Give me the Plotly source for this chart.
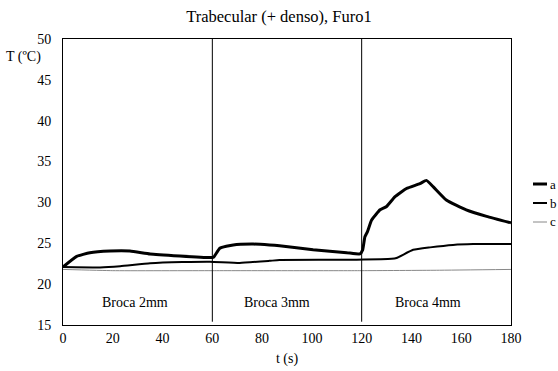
import plotly.graph_objects as go

t_a = [0, 5.5, 10.8, 18.9, 26.9, 35, 47, 59, 60.5, 63, 68.4, 76.5, 83, 87, 100.5, 114, 119.3,
       120.4, 121.3, 122.3, 124, 127.4, 130, 133.4, 138, 143.4, 146, 148.8, 154, 162, 170.2, 180]
T_a = [22.1, 23.4, 23.85, 24.05, 24.05, 23.7, 23.45, 23.25, 23.3, 24.4, 24.8, 24.9, 24.8, 24.7, 24.2, 23.85, 23.7,
       24.2, 25.8, 26.4, 27.85, 29.1, 29.5, 30.7, 31.7, 32.3, 32.7, 31.9, 30.3, 29.1, 28.3, 27.5]

t_b = [0, 14.9, 23, 35, 48, 59, 71, 83, 87, 118, 132, 134, 140.7, 147.5, 156.7, 164.8, 180]
T_b = [22.1, 22.05, 22.2, 22.55, 22.7, 22.75, 22.6, 22.85, 22.95, 23.0, 23.1, 23.2, 24.2, 24.5, 24.8, 24.9, 24.9]

t_c = [0, 20, 60, 120, 150, 180]
T_c = [21.8, 21.65, 21.65, 21.65, 21.7, 21.8]

boundaries = [60, 120]
phase_labels = ["Broca 2mm", "Broca 3mm", "Broca 4mm"]
phase_x = [29, 86, 146.7]
phase_y = 17.8

series = [("a", t_a, T_a, 3, "black"), ("b", t_b, T_b, 2, "black"), ("c", t_c, T_c, 1, "#888888")]

FONT = "Liberation Serif"
fig = go.Figure()
for name, tx, ty, w, col in series:
    fig.add_trace(go.Scatter(x=tx, y=ty, mode="lines", name=name,
                             line=dict(color=col, width=w, shape="spline", smoothing=0.4),
                             showlegend=False))

shapes = []
for b in boundaries:
    shapes.append(dict(type="line", xref="x", yref="y", x0=b, x1=b, y0=15.4, y1=50,
                       line=dict(color="black", width=1)))

annotations = []
for lab, px in zip(phase_labels, phase_x):
    annotations.append(dict(x=px, y=phase_y, xref="x", yref="y", text=lab, showarrow=False,
                            font=dict(family=FONT, size=14, color="black")))

# manual legend (plot area: left 63, right 511, top 39, bottom 325)
leg_y_px = [184, 203, 222]
for (name, tx, ty, w, col), py in zip(series, leg_y_px):
    yp = (325 - py) / 286
    shapes.append(dict(type="line", xref="paper", yref="paper", x0=(533 - 63) / 448, x1=(547 - 63) / 448,
                       y0=yp, y1=yp, line=dict(color=col, width=w)))
    annotations.append(dict(x=(548 - 63) / 448, y=yp, xref="paper", yref="paper", text=name,
                            showarrow=False, xanchor="left", yanchor="middle",
                            font=dict(family=FONT, size=13, color="black")))

annotations.append(dict(x=(43 - 63) / 448, y=(325 - 57) / 286, xref="paper", yref="paper", text="T (ºC)",
                        showarrow=False, xanchor="right", yanchor="middle",
                        font=dict(family=FONT, size=14, color="black")))

fig.update_layout(
    width=558, height=371,
    margin=dict(l=63, r=47, t=39, b=46),
    paper_bgcolor="white", plot_bgcolor="white",
    title=dict(text="Trabecular (+ denso), Furo1", x=0.5, xanchor="center", y=1 - 16 / 371, yanchor="middle",
               font=dict(family=FONT, size=16.5, color="black")),
    font=dict(family=FONT, size=14, color="black"),
    shapes=shapes, annotations=annotations,
    xaxis=dict(range=[0, 180], tickmode="array", tickvals=list(range(0, 181, 20)), showgrid=False,
               zeroline=False, showline=True, linecolor="black", linewidth=1, mirror=True, ticks="",
               automargin=False,
               title=dict(text="t (s)", font=dict(family=FONT, size=14), standoff=8)),
    yaxis=dict(range=[15, 50], tickmode="array", tickvals=list(range(15, 51, 5)), showgrid=False,
               zeroline=False, showline=True, linecolor="black", linewidth=1, mirror=True, ticks="",
               automargin=False, ticklabelstandoff=8),
)
fig.write_html("out.html")
